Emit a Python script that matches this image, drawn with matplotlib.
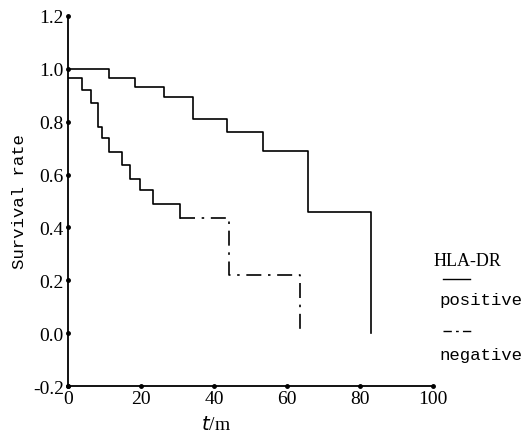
import matplotlib
matplotlib.use("Agg")
import matplotlib.pyplot as plt
from matplotlib.lines import Line2D

# Kaplan-Meier steps (time in months, survival rate)
pos_t = [0, 11.2, 18.4, 26.3, 34.3, 43.5, 53.4, 65.8, 83.0]
pos_s = [1.0, 0.966, 0.93, 0.895, 0.81, 0.76, 0.69, 0.46, 0.0]

neg_t = [0, 3.8, 6.2, 8.1, 9.4, 11.2, 14.7, 17.0, 19.7, 23.4, 30.7, 44.0, 63.5]
neg_s = [0.965, 0.92, 0.87, 0.78, 0.74, 0.685, 0.635, 0.585, 0.54, 0.49, 0.435, 0.22, 0.0]

x_ticks = [0, 20, 40, 60, 80, 100]
y_ticks = [-0.2, 0.0, 0.2, 0.4, 0.6, 0.8, 1.0, 1.2]

num_font = "Liberation Serif"
txt_font = "Liberation Mono"
dashdot = (0, (9, 4, 1.5, 4))

fig = plt.figure(figsize=(5.27, 4.35), dpi=100)
ax = fig.add_axes([0.129, 0.110, 0.693, 0.851])

ax.step(pos_t, pos_s, where="post", color="black", lw=1.2)
# early part of the negative curve looks solid in the original, rest dash-dot
k = 11
ax.step(neg_t[:k], neg_s[:k], where="post", color="black", lw=1.2)
ax.step(neg_t[k - 1:], neg_s[k - 1:], where="post", color="black", lw=1.2,
        linestyle=dashdot)

ax.set_xlim(0, 100)
ax.set_ylim(-0.2, 1.2)
for s in ["top", "right"]:
    ax.spines[s].set_visible(False)
ax.spines["left"].set_linewidth(1.3)
ax.spines["bottom"].set_linewidth(1.3)

ax.set_xticks(x_ticks)
ax.set_yticks(y_ticks)
ax.set_xticklabels([str(v) for v in x_ticks], fontfamily=num_font, fontsize=14)
ax.set_yticklabels(["%.1f" % v if v >= 0 else "-%.1f" % abs(v) for v in y_ticks],
                   fontfamily=num_font, fontsize=14)
ax.tick_params(length=0, pad=3)

# dot-style tick marks
ax.plot(x_ticks, [-0.2] * len(x_ticks), "o", color="black", ms=2.5, clip_on=False)
ax.plot([0] * len(y_ticks), y_ticks, "o", color="black", ms=2.5, clip_on=False)

ax.set_ylabel("Survival rate", fontfamily=txt_font, fontsize=12.5)
ax.yaxis.set_label_coords(-0.113, 0.5)
ax.set_xlabel("$t$/m", fontfamily=num_font, fontsize=14)
ax.xaxis.set_label_coords(0.405, -0.078)

# legend drawn by hand
fig.text(0.822, 0.398, "HLA-DR", fontfamily=num_font, fontsize=13, va="center")
fig.add_artist(Line2D([0.841, 0.892], [0.356, 0.356], color="black", lw=1.0))
fig.text(0.833, 0.310, "positive", fontfamily=txt_font, fontsize=12.5, va="center")
fig.add_artist(Line2D([0.841, 0.898], [0.237, 0.237], color="black", lw=1.0,
                      linestyle=(0, (6, 3, 2, 3))))
fig.text(0.833, 0.182, "negative", fontfamily=txt_font, fontsize=12.5, va="center")

fig.savefig("out.png", dpi=100, facecolor="white")
